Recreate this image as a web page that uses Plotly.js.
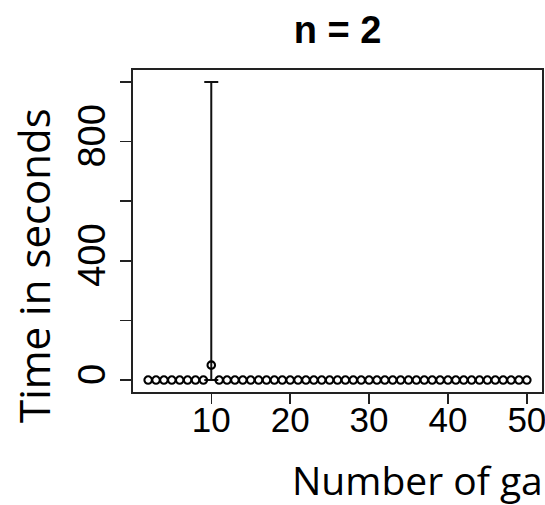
<!DOCTYPE html>
<html>
<head>
<meta charset="utf-8">
<script src="https://cdn.plot.ly/plotly-3.0.1.min.js"></script>
<style>html,body{margin:0;padding:0;overflow:hidden;background:#fff}</style>
</head>
<body>
<div id="chart" style="width:545px;height:505px"></div>
<script>
// Data
const numGames = [2,3,4,5,6,7,8,9,10,11,12,13,14,15,16,17,18,19,20,21,22,23,24,25,26,27,28,29,30,31,32,33,34,35,36,37,38,39,40,41,42,43,44,45,46,47,48,49,50];
const timeSeconds = [0,0,0,0,0,0,0,0,50,0,0,0,0,0,0,0,0,0,0,0,0,0,0,0,0,0,0,0,0,0,0,0,0,0,0,0,0,0,0,0,0,0,0,0,0,0,0,0,0];
const errPlus = [0,0,0,0,0,0,0,0,950,0,0,0,0,0,0,0,0,0,0,0,0,0,0,0,0,0,0,0,0,0,0,0,0,0,0,0,0,0,0,0,0,0,0,0,0,0,0,0,0];
const errMinus = [0,0,0,0,0,0,0,0,50,0,0,0,0,0,0,0,0,0,0,0,0,0,0,0,0,0,0,0,0,0,0,0,0,0,0,0,0,0,0,0,0,0,0,0,0,0,0,0,0];
const xTicks = [10,20,30,40,50];
const yTicks = [0,200,400,600,800,1000];
const yTickLabels = ['0','','400','','800',''];
const chartTitle = 'n = 2';
const xTitle = 'Number of ga';
const yTitle = 'Time in seconds';

// points that carry an error bar
const ebIdx = errPlus.map((v,i)=> (v>0||errMinus[i]>0) ? i : -1).filter(i=>i>=0);

const traces = [
  {
    type:'scatter', mode:'lines', x: ebIdx.map(i=>numGames[i]), y: ebIdx.map(i=>timeSeconds[i]),
    line:{width:0}, hoverinfo:'skip', showlegend:false,
    error_y:{type:'data', symmetric:false, array: ebIdx.map(i=>errPlus[i]), arrayminus: ebIdx.map(i=>errMinus[i]),
      color:'#111', thickness:2, width:7}
  },
  {
    type:'scatter', mode:'markers', x: numGames, y: timeSeconds, showlegend:false,
    marker:{symbol:'circle-open', size:7.5, color:'#000', line:{width:2.1, color:'#000'}}
  }
];

const layout = {
  width:545, height:505,
  margin:{l:133, r:3, t:70, b:113},
  paper_bgcolor:'#fff', plot_bgcolor:'#fff',
  showlegend:false,
  title:{text:'<b>'+chartTitle+'</b>', x:0.5, xref:'paper', y:1-30/505, yref:'container', yanchor:'middle', xanchor:'center',
    font:{family:'Liberation Sans, Arial, sans-serif', size:38, color:'#000'}},
  xaxis:{range:[0.08,51.92], tickmode:'array', tickvals:xTicks, ticks:'outside', ticklen:10, tickwidth:1.5, tickcolor:'#222',
    ticklabelstandoff:-14, ticklabeloverflow:'allow',
    showline:true, mirror:true, linecolor:'#222', linewidth:1.8, showgrid:false, zeroline:false,
    tickfont:{family:'Liberation Sans, Arial, sans-serif', size:35, color:'#000'}},
  yaxis:{range:[-40,1040], tickmode:'array', tickvals:yTicks, ticktext:yTickLabels, tickangle:-90, ticks:'outside', ticklen:11, tickwidth:1.5, tickcolor:'#222',
    showline:true, mirror:true, linecolor:'#222', linewidth:1.8, showgrid:false, zeroline:false,
    tickfont:{family:'Liberation Sans, Arial, sans-serif', size:38, color:'#000'}},
  annotations:[
    {text:xTitle, xref:'paper', yref:'paper', x:(290-133)/409, y:(392-479)/322, xanchor:'left', yanchor:'middle', showarrow:false,
      font:{family:'Open Sans, sans-serif', size:39, color:'#000'}},
    {text:yTitle, xref:'paper', yref:'paper', x:(33-133)/409, y:(392-266)/322, xanchor:'center', yanchor:'middle', textangle:-90, showarrow:false,
      font:{family:'Open Sans, sans-serif', size:42, color:'#000'}}
  ]
};

Plotly.newPlot('chart', traces, layout, {displayModeBar:false, staticPlot:true});
</script>
</body>
</html>
